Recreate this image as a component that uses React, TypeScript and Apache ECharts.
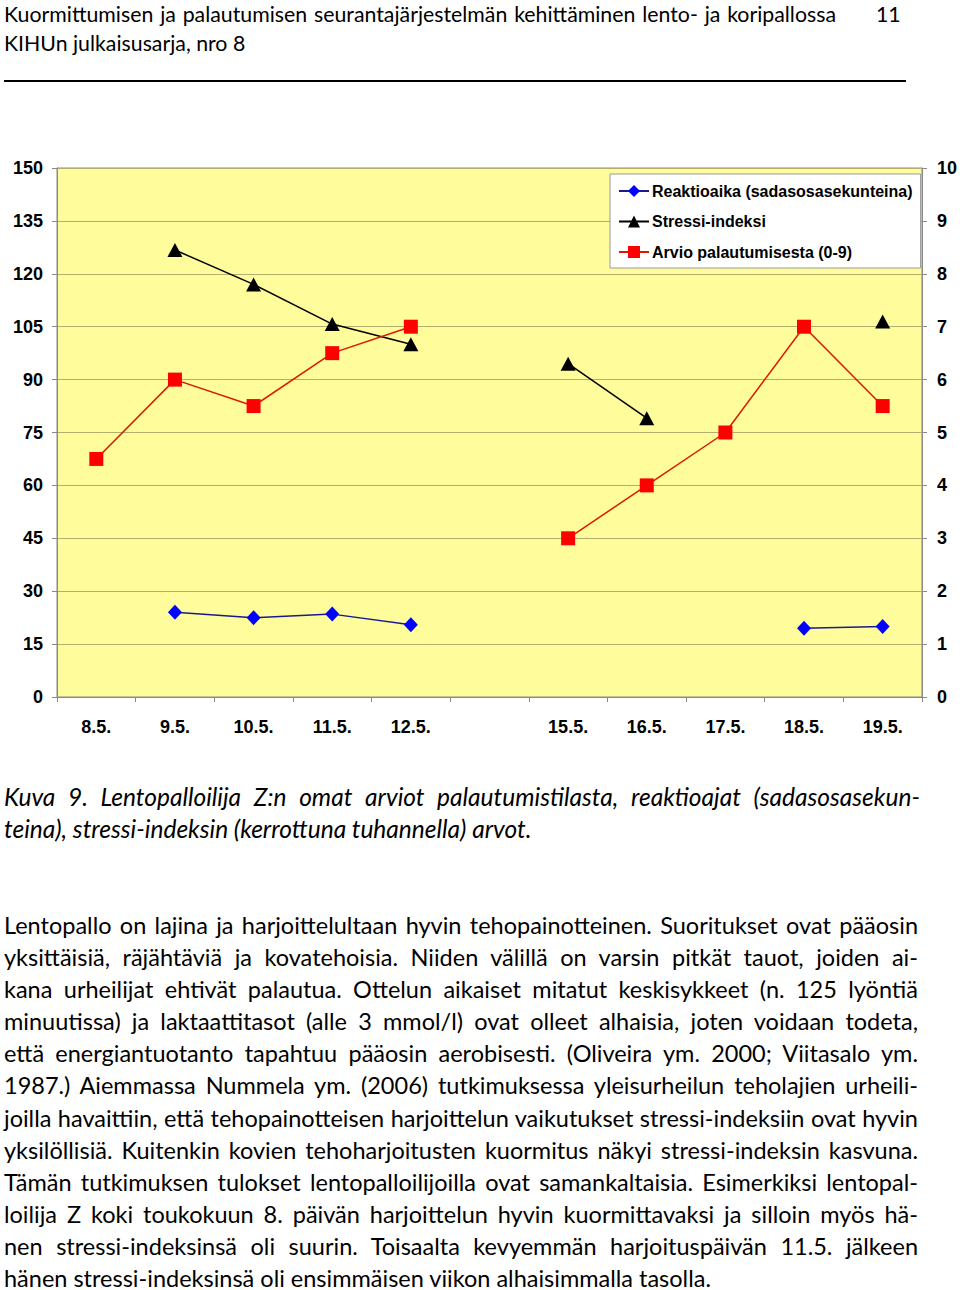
import React, { useEffect, useRef } from "react";
import * as echarts from "echarts";

const categories = ["8.5.", "9.5.", "10.5.", "11.5.", "12.5.", "", "15.5.", "16.5.", "17.5.", "18.5.", "19.5."];
const reaktioaika = [null, 24, 22.5, 23.5, 20.5, null, null, null, null, 19.5, 20];
const stressiIndeksi = [null, 8.45, 7.8, 7.05, 6.67, null, 6.3, 5.27, null, null, 7.1];
const arvioPalautumisesta = [4.5, 6, 5.5, 6.5, 7, null, 3, 4, 5, 7, 5.5];
const seriesNames = ["Reaktioaika (sadasosasekunteina)", "Stressi-indeksi", "Arvio palautumisesta (0-9)"];
const leftAxis = { min: 0, max: 150, interval: 15 };
const rightAxis = { min: 0, max: 10, interval: 1 };

const headerLine1 = "Kuormittumisen ja palautumisen seurantajärjestelmän kehittäminen lento- ja koripallossa";
const pageNumber = "11";
const headerLine2 = "KIHUn julkaisusarja, nro 8";
const captionLines = [
  "Kuva 9. Lentopalloilija Z:n omat arviot palautumistilasta, reaktioajat (sadasosasekun-",
  "teina), stressi-indeksin (kerrottuna tuhannella) arvot.",
];
const bodyLines = [
  "Lentopallo on lajina ja harjoittelultaan hyvin tehopainotteinen. Suoritukset ovat pääosin",
  "yksittäisiä, räjähtäviä ja kovatehoisia. Niiden välillä on varsin pitkät tauot, joiden ai-",
  "kana urheilijat ehtivät palautua. Ottelun aikaiset mitatut keskisykkeet (n. 125 lyöntiä",
  "minuutissa) ja laktaattitasot (alle 3 mmol/l) ovat olleet alhaisia, joten voidaan todeta,",
  "että energiantuotanto tapahtuu pääosin aerobisesti. (Oliveira ym. 2000; Viitasalo ym.",
  "1987.) Aiemmassa Nummela ym. (2006) tutkimuksessa yleisurheilun teholajien urheili-",
  "joilla havaittiin, että tehopainotteisen harjoittelun vaikutukset stressi-indeksiin ovat hyvin",
  "yksilöllisiä. Kuitenkin kovien tehoharjoitusten kuormitus näkyi stressi-indeksin kasvuna.",
  "Tämän tutkimuksen tulokset lentopalloilijoilla ovat samankaltaisia. Esimerkiksi lentopal-",
  "loilija Z koki toukokuun 8. päivän harjoittelun hyvin kuormittavaksi ja silloin myös hä-",
  "nen stressi-indeksinsä oli suurin. Toisaalta kevyemmän harjoituspäivän 11.5. jälkeen",
  "hänen stressi-indeksinsä oli ensimmäisen viikon alhaisimmalla tasolla.",
];

const textFont = "Lato, 'Open Sans', sans-serif";
const labelFont = "'Liberation Sans', Arial, sans-serif";

function ChartInner() {
  const ref = useRef<HTMLDivElement>(null);
  useEffect(() => {
    if (!ref.current) return;
    const chart = echarts.init(ref.current, undefined, { renderer: "svg" });
    const axisLabelStyle = { color: "#000", fontFamily: labelFont, fontWeight: "bold" as const, fontSize: 18 };
    chart.setOption({
      animation: false,
      grid: {
        left: 57,
        right: 37,
        top: 168,
        height: 529,
        show: true,
        backgroundColor: "#FFFC9C",
        borderColor: "#8a8a8a",
        borderWidth: 1,
      },
      legend: {
        data: seriesNames,
        orient: "vertical",
        left: 610,
        top: 174,
        width: 308,
        padding: [9, 8, 8, 8],
        itemGap: 14.5,
        itemWidth: 30,
        itemHeight: 15,
        backgroundColor: "#fff",
        borderColor: "#9a9a9a",
        borderWidth: 1,
        textStyle: { color: "#000", fontFamily: labelFont, fontWeight: "bold", fontSize: 16, padding: [0, 0, 0, -2] },
      },
      xAxis: {
        type: "category",
        data: categories,
        boundaryGap: true,
        axisLine: { lineStyle: { color: "#8a8a8a" } },
        axisTick: { show: true, alignWithLabel: false, length: 5, lineStyle: { color: "#8a8a8a" } },
        axisLabel: { ...axisLabelStyle, margin: 21, interval: 0 },
      },
      yAxis: [
        {
          type: "value",
          ...leftAxis,
          position: "left",
          axisLine: { show: true, lineStyle: { color: "#8a8a8a" } },
          axisTick: { show: true, length: 5, lineStyle: { color: "#8a8a8a" } },
          axisLabel: { ...axisLabelStyle, margin: 14 },
          splitLine: { show: true, lineStyle: { color: "#b3ad6e", width: 1 } },
        },
        {
          type: "value",
          ...rightAxis,
          position: "right",
          axisLine: { show: true, lineStyle: { color: "#8a8a8a" } },
          axisTick: { show: true, length: 5, lineStyle: { color: "#8a8a8a" } },
          axisLabel: { ...axisLabelStyle, margin: 15 },
          splitLine: { show: false },
        },
      ],
      series: [
        {
          name: seriesNames[0],
          type: "line",
          yAxisIndex: 0,
          data: reaktioaika,
          symbol: "diamond",
          symbolSize: [14, 15],
          itemStyle: { color: "#0000FF" },
          lineStyle: { color: "#1a1a8c", width: 1.5 },
          connectNulls: false,
        },
        {
          name: seriesNames[1],
          type: "line",
          yAxisIndex: 1,
          data: stressiIndeksi,
          symbol: "triangle",
          symbolSize: [15, 14],
          itemStyle: { color: "#000" },
          lineStyle: { color: "#000", width: 1.5 },
          connectNulls: false,
        },
        {
          name: seriesNames[2],
          type: "line",
          yAxisIndex: 1,
          data: arvioPalautumisesta,
          symbol: "rect",
          symbolSize: 14,
          itemStyle: { color: "#FF0000" },
          lineStyle: { color: "#d81a00", width: 1.5 },
          connectNulls: false,
        },
      ],
    });
    return () => chart.dispose();
  }, []);
  return <div ref={ref} style={{ position: "absolute", left: 0, top: 0, width: 960, height: 780 }} />;
}

export default function App() {
  return (
    <div style={{ position: "absolute", left: 0, top: 0, width: 960, height: 1290, background: "#fff", fontFamily: textFont, color: "#000" }}>
      <div style={{ position: "absolute", left: 4, top: 0, width: 832, fontSize: 21.3, lineHeight: "29px", textAlign: "justify", textAlignLast: "justify" as any, whiteSpace: "nowrap" }}>
        {headerLine1}
      </div>
      <div style={{ position: "absolute", left: 876, top: 0, fontSize: 21.3, lineHeight: "29px" }}>{pageNumber}</div>
      <div style={{ position: "absolute", left: 4, top: 29, fontSize: 21.3, lineHeight: "29px" }}>{headerLine2}</div>
      <div style={{ position: "absolute", left: 4, top: 80, width: 902, height: 2, background: "#000" }} />
      <ChartInner />
      <div style={{ position: "absolute", left: 4, top: 781, width: 916, fontSize: 24.5, lineHeight: "32px", fontStyle: "italic" }}>
        {captionLines.map((l, i) => (
          <div key={i} style={{ textAlign: "justify", textAlignLast: (i < captionLines.length - 1 ? "justify" : "left") as any, whiteSpace: "nowrap" }}>{l}</div>
        ))}
      </div>
      <div style={{ position: "absolute", left: 4, top: 909, width: 914, fontSize: 23.5 }}>
        {bodyLines.map((l, i) => {
          const last = i === bodyLines.length - 1;
          return (
            <div
              key={i}
              style={{
                textAlign: "justify",
                textAlignLast: (last ? "left" : "justify") as any,
                whiteSpace: "nowrap",
                lineHeight: last ? "24px" : "32.1px",
                marginTop: last ? 4 : 0,
              }}
            >
              {l}
            </div>
          );
        })}
      </div>
    </div>
  );
}
